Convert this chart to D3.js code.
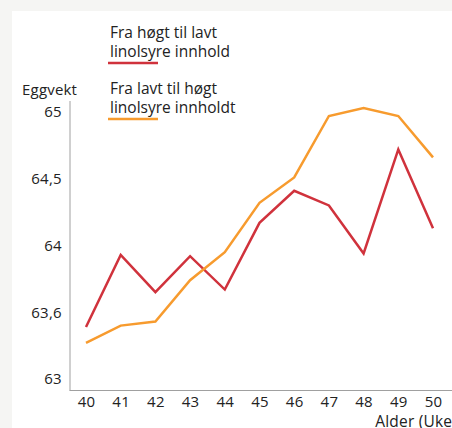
<!DOCTYPE html>
<html><head><meta charset="utf-8">
<script src="https://cdn.jsdelivr.net/npm/d3@7"></script>
<style>
html,body{margin:0;padding:0;background:#f5f5f3;}
svg{display:block;}
text{font-family:"Open Sans","Noto Sans",sans-serif;fill:#222;}
</style></head>
<body>
<svg id="c" width="452" height="428"></svg>
<script>
const weeks = [40,41,42,43,44,45,46,47,48,49,50];
const hoegtTilLavt = [63.39,63.93,63.65,63.92,63.67,64.17,64.41,64.30,63.94,64.72,64.13];
const lavtTilHoegt = [63.27,63.40,63.43,63.74,63.95,64.32,64.51,64.97,65.03,64.97,64.66];
const yTickValues = [63,63.5,64,64.5,65];
const yTickLabels = ["63","63,6","64","64,5","65"];
const seriesNames = [["Fra høgt til lavt","linolsyre innhold"],["Fra lavt til høgt","linolsyre innholdt"]];
const colors = ["#d0323c","#f79b2e"];
const FONT = "'Open Sans','Noto Sans',sans-serif";

const svg = d3.select("#c");
svg.append("rect").attr("x",12).attr("y",11).attr("width",440).attr("height",417).attr("fill","#fff");

const x = d3.scaleLinear().domain([40,50]).range([86,433]);
const y = d3.scaleLinear().domain([63,65]).range([379,112]);

svg.append("line").attr("x1",70).attr("x2",70).attr("y1",101).attr("y2",390.5).attr("stroke","#a0a0a0").attr("stroke-width",1);
svg.append("line").attr("x1",69.5).attr("x2",452).attr("y1",390.5).attr("y2",390.5).attr("stroke","#a0a0a0").attr("stroke-width",1);

const yAxis = d3.axisLeft(y).tickValues(yTickValues).tickSize(0).tickPadding(0)
  .tickFormat((d,i)=>yTickLabels[i]);
const gy = svg.append("g").attr("transform","translate(62,0)").call(yAxis);
gy.select(".domain").remove();
gy.selectAll("text").style("font-size","15px").style("font-family",FONT).style("letter-spacing","0.3px").attr("fill","#222");

const xAxis = d3.axisBottom(x).tickValues(weeks).tickSize(0).tickPadding(0).tickFormat(d3.format("d"));
const gx = svg.append("g").attr("transform","translate(0,396.5)").call(xAxis);
gx.select(".domain").remove();
gx.selectAll("text").style("font-size","15px").style("font-family",FONT).style("letter-spacing","0.3px").attr("fill","#222");

svg.append("text").attr("x",457).attr("y",426.5).attr("text-anchor","end").style("font-size","15.5px").style("letter-spacing","0.2px").text("Alder (Uke)");
svg.append("text").attr("x",22).attr("y",95).style("font-size","15px").style("letter-spacing","0.2px").text("Eggvekt");

const line = d3.line().x((d,i)=>x(weeks[i])).y(d=>y(d));
[hoegtTilLavt,lavtTilHoegt].forEach((s,k)=>{
  svg.append("path").datum(s).attr("d",line).attr("fill","none")
    .attr("stroke",colors[k]).attr("stroke-width",2.5).attr("stroke-linejoin","miter");
});

const legY = [38,94];
seriesNames.forEach((nm,k)=>{
  nm.forEach((txt,j)=>{
    svg.append("text").attr("x",110).attr("y",legY[k]+j*18.5).style("font-size","15.5px").text(txt);
  });
  svg.append("line").attr("x1",108).attr("x2",158).attr("y1",legY[k]+25).attr("y2",legY[k]+25)
    .attr("stroke",colors[k]).attr("stroke-width",2.5);
});
</script>
</body></html>
